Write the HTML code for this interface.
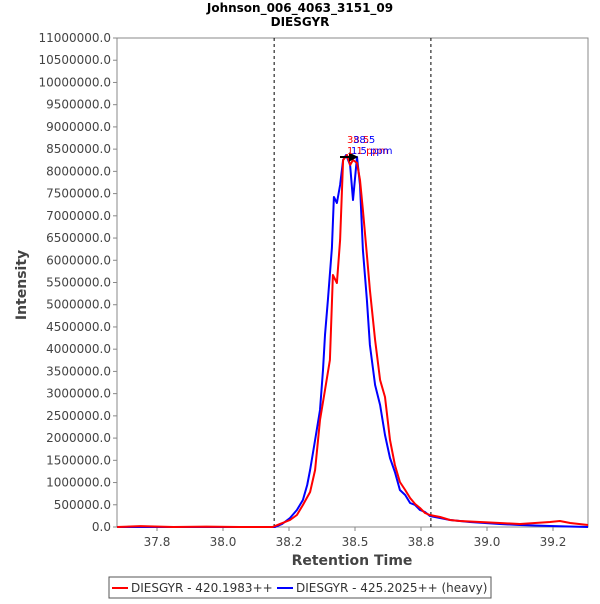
<!DOCTYPE html>
<html><head><meta charset="utf-8"><style>
body{margin:0;background:#fff;font-family:"DejaVu Sans",sans-serif}
</style></head><body>
<svg id="c" width="600" height="600" xmlns="http://www.w3.org/2000/svg" font-family="DejaVu Sans, sans-serif">
<rect x="0" y="0" width="600" height="600" fill="#fff"/>
<text x="300" y="12" text-anchor="middle" font-size="12" font-weight="bold">Johnson_006_4063_3151_09</text>
<text x="300" y="26" text-anchor="middle" font-size="12" font-weight="bold">DIESGYR</text>
<rect x="117" y="38" width="471" height="489" fill="#fff" stroke="#888"/>
<g id="yax"></g>
<g id="xax"></g>
<g id="marks"></g>
<text transform="translate(26,285) rotate(-90)" text-anchor="middle" font-size="14" font-weight="bold" fill="#444">Intensity</text>
<text x="352" y="565" text-anchor="middle" font-size="14" font-weight="bold" fill="#444">Retention Time</text>
<g>
<rect x="109" y="577" width="382" height="21" fill="#fff" stroke="#555"/>
<line x1="112" y1="588" x2="128" y2="588" stroke="red" stroke-width="2"/>
<text x="131" y="592" font-size="12" fill="#333">DIESGYR - 420.1983++</text>
<line x1="277" y1="588" x2="293" y2="588" stroke="blue" stroke-width="2"/>
<text x="296" y="592" font-size="12" fill="#333">DIESGYR - 425.2025++ (heavy)</text>
</g>
</svg>
<script>
const yTicks=[0,500000,1000000,1500000,2000000,2500000,3000000,3500000,4000000,4500000,5000000,5500000,6000000,6500000,7000000,7500000,8000000,8500000,9000000,9500000,10000000,10500000,11000000];
const xTicks=[37.8,38.0,38.2,38.4,38.6,38.8,39.0];
const xTickLabels=["37.8","38.0","38.2","38.5","38.8","39.0","39.2"];
const markerLines=[38.155,38.630];
const redTimes=[37.679,37.75,37.85,37.95,38.05,38.15,38.173,38.203,38.224,38.242,38.264,38.279,38.294,38.309,38.324,38.333,38.345,38.355,38.364,38.376,38.385,38.394,38.406,38.415,38.424,38.436,38.445,38.461,38.476,38.491,38.506,38.521,38.536,38.552,38.567,38.582,38.597,38.612,38.627,38.642,38.658,38.688,38.718,38.779,38.839,38.9,38.991,39.021,39.052,39.106];
const redValues=[0,20000,0,10000,0,0,70000,157000,270000,495000,787000,1282000,2407000,3082000,3757000,5669000,5489000,6456000,8256000,8368000,8143000,8256000,8188000,7806000,7131000,6119000,5331000,4207000,3307000,2924000,1957000,1395000,1012000,832000,652000,517000,427000,315000,270000,247000,225000,157000,135000,112000,90000,67000,112000,135000,90000,45000];
const blueTimes=[37.679,38.158,38.179,38.203,38.224,38.242,38.255,38.264,38.279,38.294,38.303,38.309,38.318,38.330,38.336,38.345,38.355,38.364,38.373,38.385,38.394,38.406,38.415,38.424,38.436,38.445,38.461,38.476,38.491,38.506,38.521,38.536,38.552,38.567,38.582,38.597,38.612,38.627,38.658,38.688,38.748,38.839,38.9,38.991,39.106];
const blueValues=[0,0,67000,202000,382000,607000,945000,1282000,1957000,2632000,3532000,4319000,5106000,6276000,7423000,7288000,7693000,8256000,8368000,8143000,7356000,8323000,7693000,6231000,5106000,4094000,3194000,2744000,2070000,1552000,1237000,832000,720000,540000,495000,382000,337000,247000,202000,157000,112000,67000,45000,22000,0];
const NS="http://www.w3.org/2000/svg";
function X(t){return 157+(t-37.8)*330;}
function Y(v){return 527-v/11000000*489;}
function mk(tag,attrs,parent){const e=document.createElementNS(NS,tag);for(const k in attrs)e.setAttribute(k,attrs[k]);parent.appendChild(e);return e;}
const yax=document.getElementById('yax'),xax=document.getElementById('xax'),marks=document.getElementById('marks');
yTicks.forEach(v=>{
  const l=mk('line',{x1:113,x2:117,y1:Y(v),y2:Y(v),stroke:'#888'},yax);
  
  
  const t=mk('text',{x:111,y:Y(v)+4,'text-anchor':'end','font-size':12,fill:'#444'},yax);
  t.textContent=v.toFixed(1);
  
  
});
xTicks.forEach((v,i)=>{
  const l=mk('line',{x1:X(v),x2:X(v),y1:527,y2:531,stroke:'#888'},xax);
  
  
  const t=mk('text',{x:X(v),y:546,'text-anchor':'middle','font-size':12,fill:'#444'},xax);
  t.textContent=xTickLabels[i];
  
  
});
markerLines.forEach(v=>{
  const l=mk('line',{x1:X(v),x2:X(v),y1:38,y2:527,stroke:'#000','stroke-dasharray':'3,3','stroke-width':1},marks);
  
  
});
function series(ts,vs,col,name){
  const p=mk('polyline',{points:ts.map((t,i)=>X(t).toFixed(1)+','+Y(vs[i]).toFixed(1)).join(' '),fill:'none',stroke:col,'stroke-width':2,'stroke-linejoin':'round'},marks);
  
  
}
series(blueTimes,blueValues,'blue','series-heavy');
series(redTimes,redValues,'red','series-light');
const ar=mk('path',{d:'M340,157 L356,157 M356,157 l-6,-3 v6 z',stroke:'#000','stroke-width':2,fill:'#000'},marks);


[[347,143,'red','38.5'],[353,143,'blue','38.5'],[347,154,'red','1.1 ppm'],[351,154,'blue','1.5 ppm']].forEach(a=>{
  const t=mk('text',{x:a[0],y:a[1],fill:a[2],'font-size':10},marks);
  t.textContent=a[3];
  
  
});
</script>
</body></html>
